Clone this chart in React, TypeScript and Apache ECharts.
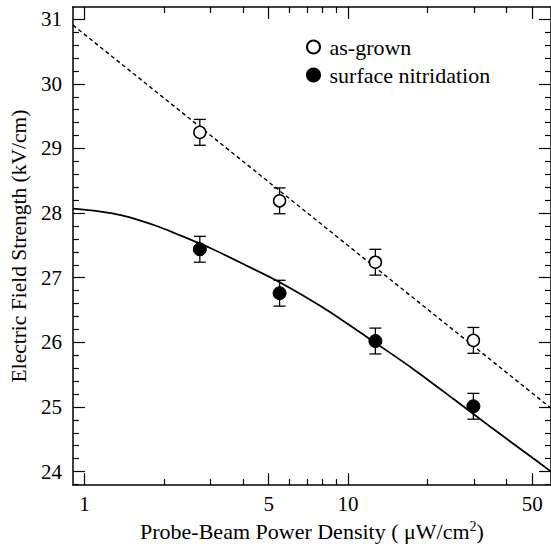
import React, { useEffect, useRef } from "react";
import * as echarts from "echarts";

// Measured data (x in µW/cm², y in kV/cm)
const pointX = [2.74, 5.5, 12.7, 29.9];
const asGrown = [29.25, 28.19, 27.24, 26.03];
const nitrided = [27.44, 26.76, 26.02, 25.01];
const errAsGrown = [0.2, 0.2, 0.2, 0.2];
const errNitrided = [0.2, 0.2, 0.2, 0.2];

// Fit lines
const fitDashX = [0.904, 58.9];
const fitDashY = [30.91, 24.98];
const fitSolidX = [0.904, 1.12, 1.4, 1.88, 2.23, 3.0, 4.06, 5.5, 8.09, 12.0, 17.5, 25, 35, 45.1, 58.9];
const fitSolidY = [28.07, 28.03, 27.96, 27.8, 27.68, 27.46, 27.2, 26.93, 26.53, 26.06, 25.6, 25.13, 24.68, 24.35, 24.0];

// Axis ticks
const xMajorTicks = [1, 5, 10, 50];
const xMinorTicks = [2, 3, 4, 6, 7, 8, 9, 20, 30, 40];
const yMajorTicks = [24, 25, 26, 27, 28, 29, 30, 31];
const yMinorTicks: number[] = [23.8, 24.2, 24.4, 24.6, 24.8, 25.2, 25.4, 25.6, 25.8, 26.2, 26.4, 26.6, 26.8, 27.2, 27.4, 27.6, 27.8, 28.2, 28.4, 28.6, 28.8, 29.2, 29.4, 29.6, 29.8, 30.2, 30.4, 30.6, 30.8];

const X_MIN = 0.904;
const X_MAX = 58.9;
const Y_MIN = 23.79;
const Y_MAX = 31.19;

const FONT = "Liberation Serif";
const L = (v: number) => Math.log10(v);

export default function App() {
  const ref = useRef<HTMLDivElement>(null);
  useEffect(() => {
    if (!ref.current) return;
    const chart = echarts.init(ref.current, undefined, { renderer: "svg" });
    const lineStyle = { color: "#000", width: 1.5 };
    const xBase = (pos: "bottom" | "top", ticks: number[], len: number, showLine: boolean, labels: boolean, name?: boolean) => ({
      type: "value",
      position: pos,
      min: L(X_MIN),
      max: L(X_MAX),
      axisLine: { show: showLine, onZero: false, lineStyle },
      splitLine: { show: false },
      axisTick: {
        show: true,
        inside: true,
        length: len,
        lineStyle: { color: "#000", width: 1.2 },
        customValues: ticks.map(L),
      },
      axisLabel: labels
        ? {
            show: true,
            customValues: ticks.map(L),
            formatter: (v: number) => String(Math.round(Math.pow(10, v))),
            color: "#000",
            fontFamily: FONT,
            fontSize: 21,
            margin: 8,
          }
        : { show: false },
      ...(name
        ? {
            name: "{a|Probe-Beam Power Density ( μW/cm}{s|2}{a|)}",
            nameLocation: "middle",
            nameGap: 28,
            nameTextStyle: {
              rich: {
                a: { fontFamily: FONT, fontSize: 22, color: "#000" },
                s: { fontFamily: FONT, fontSize: 14, color: "#000", verticalAlign: "top", padding: [0, 0, 10, 0] },
              },
            },
          }
        : {}),
    });
    const yBase = (pos: "left" | "right", ticks: number[], len: number, showLine: boolean, labels: boolean, name?: boolean) => ({
      type: "value",
      position: pos,
      min: Y_MIN,
      max: Y_MAX,
      axisLine: { show: showLine, onZero: false, lineStyle },
      splitLine: { show: false },
      axisTick: {
        show: true,
        inside: true,
        length: len,
        lineStyle: { color: "#000", width: 1.2 },
        customValues: ticks,
      },
      axisLabel: labels
        ? {
            show: true,
            customValues: ticks,
            formatter: (v: number) => String(Math.round(v)),
            color: "#000",
            fontFamily: FONT,
            fontSize: 21,
            margin: 11,
          }
        : { show: false },
      ...(name
        ? {
            name: "Electric Field Strength (kV/cm)",
            nameLocation: "middle",
            nameGap: 36,
            nameTextStyle: { fontFamily: FONT, fontSize: 21.5, color: "#000" },
          }
        : {}),
    });

    const errData = (ys: number[], es: number[]) => pointX.map((x, i) => [L(x), ys[i] - es[i], ys[i] + es[i]]);
    const errSeries = (ys: number[], es: number[]) => ({
      type: "custom",
      xAxisIndex: 0,
      yAxisIndex: 0,
      z: 3,
      silent: true,
      data: errData(ys, es),
      encode: { x: 0, y: [1, 2] },
      renderItem: (_p: any, api: any) => {
        const x = api.value(0);
        const lo = api.coord([x, api.value(1)]);
        const hi = api.coord([x, api.value(2)]);
        const w = 6;
        const st = { stroke: "#000", lineWidth: 1.3 };
        return {
          type: "group",
          children: [
            { type: "line", shape: { x1: lo[0], y1: lo[1], x2: hi[0], y2: hi[1] }, style: st },
            { type: "line", shape: { x1: lo[0] - w, y1: lo[1], x2: lo[0] + w, y2: lo[1] }, style: st },
            { type: "line", shape: { x1: hi[0] - w, y1: hi[1], x2: hi[0] + w, y2: hi[1] }, style: st },
          ],
        };
      },
    });

    chart.setOption({
      animation: false,
      backgroundColor: "#fff",
      grid: { left: 65, top: 7, width: 486, height: 488, containLabel: false },
      legend: {
        orient: "vertical",
        left: 306,
        top: 36,
        padding: 0,
        itemWidth: 14,
        itemHeight: 13,
        itemGap: 6,
        selectedMode: false,
        textStyle: { fontFamily: FONT, fontSize: 22, lineHeight: 22, color: "#000", padding: [0, 0, 0, 4] },
        data: ["as-grown", "surface nitridation"],
      },
      xAxis: [
        xBase("bottom", xMajorTicks, 12, true, true, true),
        xBase("bottom", xMinorTicks, 6, false, false),
        xBase("top", xMajorTicks, 12, true, false),
        xBase("top", xMinorTicks, 6, false, false),
      ],
      yAxis: [
        yBase("left", yMajorTicks, 12, true, true, true),
        yBase("left", yMinorTicks, 6, false, false),
        yBase("right", yMajorTicks, 12, true, false),
        yBase("right", yMinorTicks, 6, false, false),
      ],
      series: [
        {
          type: "line",
          data: fitDashX.map((x, i) => [L(x), fitDashY[i]]),
          showSymbol: false,
          symbol: "none",
          lineStyle: { color: "#000", width: 1.4, type: [4, 3] },
          z: 2,
          silent: true,
        },
        {
          type: "line",
          data: fitSolidX.map((x, i) => [L(x), fitSolidY[i]]),
          showSymbol: false,
          symbol: "none",
          smooth: 0.25,
          lineStyle: { color: "#000", width: 1.8 },
          z: 2,
          silent: true,
        },
        errSeries(asGrown, errAsGrown),
        errSeries(nitrided, errNitrided),
        {
          name: "as-grown",
          type: "scatter",
          data: pointX.map((x, i) => [L(x), asGrown[i]]),
          symbol: "circle",
          symbolSize: 12,
          itemStyle: { color: "#fff", borderColor: "#000", borderWidth: 1.5, opacity: 1 },
          z: 4,
        },
        {
          name: "surface nitridation",
          type: "scatter",
          data: pointX.map((x, i) => [L(x), nitrided[i]]),
          symbol: "circle",
          symbolSize: 13,
          itemStyle: { color: "#000", borderColor: "#000", borderWidth: 1, opacity: 1 },
          z: 4,
        },
      ],
    });
    return () => chart.dispose();
  }, []);
  return <div ref={ref} style={{ position: "fixed", left: 0, top: 0, width: 551, height: 547 }} />;
}
